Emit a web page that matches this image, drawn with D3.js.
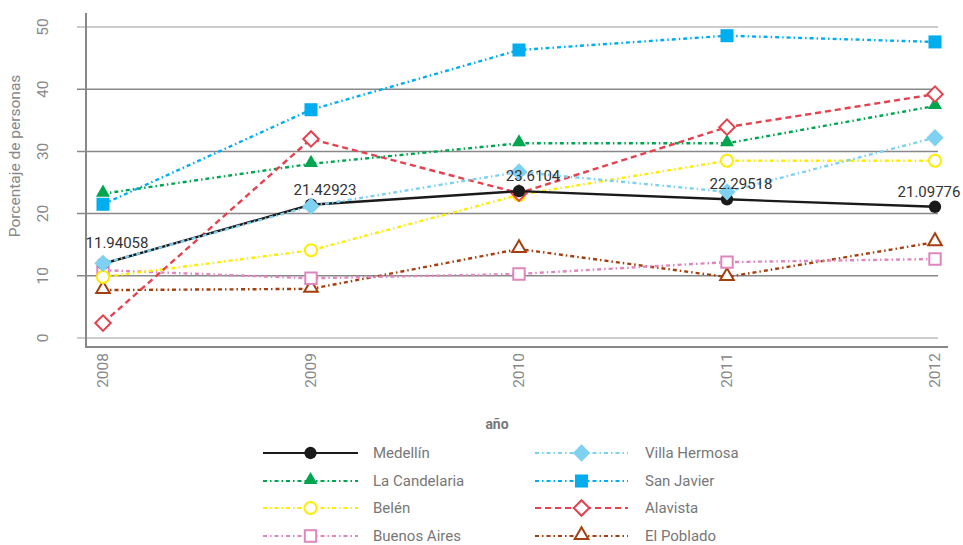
<!DOCTYPE html>
<html>
<head>
<meta charset="utf-8">
<script src="https://cdn.jsdelivr.net/npm/d3@7"></script>
<style>
  body { margin: 0; background: #fff; }
  text { font-family: Roboto, "DejaVu Sans", sans-serif; }
</style>
</head>
<body>
<div class="chart"></div>
<script>
var years = ["2008", "2009", "2010", "2011", "2012"];
var yTicks = [0, 10, 20, 30, 40, 50];

var medellin = [11.94058, 21.42923, 23.6104, 22.29518, 21.09776];
var laCandelaria = [23.2, 28.0, 31.3, 31.3, 37.3];
var belen = [9.8, 14.1, 23.0, 28.5, 28.5];
var buenosAires = [10.9, 9.6, 10.3, 12.2, 12.7];
var villaHermosa = [12.0, 21.2, 26.7, 23.5, 32.2];
var sanJavier = [21.5, 36.7, 46.3, 48.6, 47.6];
var alavista = [2.4, 32.0, 23.3, 33.9, 39.2];
var elPoblado = [7.7, 7.9, 14.3, 9.8, 15.4];

// drawing order: later ones on top
var series = [
  { name: "El Poblado", values: elPoblado, color: "#a4400f", dash: "4,3,1.5,3", shape: d3.symbolTriangle, open: true, size: 80 },
  { name: "Buenos Aires", values: buenosAires, color: "#de86bd", dash: "4,3,1.5,3", shape: d3.symbolSquare, open: true, size: 130 },
  { name: "Belén", values: belen, color: "#ffec00", dash: "4,3,1.5,3", shape: d3.symbolCircle, open: true, size: 115 },
  { name: "La Candelaria", values: laCandelaria, color: "#00a550", dash: "4,3,1.5,3", shape: d3.symbolTriangle, open: false, size: 85 },
  { name: "San Javier", values: sanJavier, color: "#00aeef", dash: "4,3,1.5,3", shape: d3.symbolSquare, open: false, size: 170 },
  { name: "Alavista", values: alavista, color: "#e5424f", dash: "6,4", shape: "diamond", open: true, size: 120 },
  { name: "Medellín", values: medellin, color: "#1a1a1a", dash: null, shape: d3.symbolCircle, open: false, size: 120 },
  { name: "Villa Hermosa", values: villaHermosa, color: "#7fd1f2", dash: "4,3,1.5,3", shape: "diamond", open: false, size: 150 }
];

var legendOrder = [
  ["Medellín", "La Candelaria", "Belén", "Buenos Aires"],
  ["Villa Hermosa", "San Javier", "Alavista", "El Poblado"]
];

var width = 963, height = 545;
var svg = d3.select(".chart").append("svg")
  .attr("width", width)
  .attr("height", height);

var x = d3.scalePoint().domain(years).range([103, 935]);
var y = d3.scaleLinear().domain([0, 50]).range([338, 27]);

// gridlines
svg.append("g").selectAll("line")
  .data(yTicks)
  .enter().append("line")
  .attr("x1", 77).attr("x2", 938)
  .attr("y1", function(d) { return y(d); })
  .attr("y2", function(d) { return y(d); })
  .attr("stroke", function(d) { return (d == 0 || d == 50) ? "#bbb" : "#888"; })
  .attr("stroke-width", 1.5);

// axis lines
svg.append("line").attr("x1", 86).attr("x2", 86).attr("y1", 13).attr("y2", 348)
  .attr("stroke", "#888").attr("stroke-width", 2);
svg.append("line").attr("x1", 85).attr("x2", 948).attr("y1", 347).attr("y2", 347)
  .attr("stroke", "#888").attr("stroke-width", 2);

// y tick labels
svg.append("g").selectAll("text")
  .data(yTicks)
  .enter().append("text")
  .attr("transform", function(d) { return "translate(48," + y(d) + ") rotate(-90)"; })
  .attr("text-anchor", "middle")
  .attr("font-size", 15.5)
  .attr("fill", "#888")
  .text(function(d) { return d; });

svg.append("text")
  .attr("transform", "translate(20,156) rotate(-90)")
  .attr("text-anchor", "middle")
  .attr("font-size", 15.5)
  .attr("fill", "#888")
  .text("Porcentaje de personas");

// x tick labels
svg.append("g").selectAll("text")
  .data(years)
  .enter().append("text")
  .attr("transform", function(d) { return "translate(" + (x(d) + 5) + ",353) rotate(-90)"; })
  .attr("text-anchor", "end")
  .attr("font-size", 15.5)
  .attr("fill", "#888")
  .text(function(d) { return d; });

svg.append("text")
  .attr("x", 497).attr("y", 429)
  .attr("text-anchor", "middle")
  .attr("font-size", 14)
  .attr("font-weight", "bold")
  .attr("fill", "#777")
  .text("año");

var line = d3.line()
  .x(function(d, i) { return x(years[i]); })
  .y(function(d) { return y(d); });

function marker(sel, s) {
  var type = s.shape == "diamond" ? d3.symbolSquare : s.shape;
  sel.attr("d", d3.symbol().type(type).size(s.size))
    .attr("fill", s.open ? "#fff" : s.color)
    .attr("stroke", s.color)
    .attr("stroke-width", s.open ? 2 : 0);
}

function place(px, py, s) {
  var rot = s.shape == "diamond" ? " rotate(45)" : "";
  var dy = s.shape == d3.symbolTriangle ? -1 : 0;
  return "translate(" + px + "," + (py + dy) + ")" + rot;
}

series.forEach(function(s) {
  svg.append("path")
    .datum(s.values)
    .attr("d", line)
    .attr("fill", "none")
    .attr("stroke", s.color)
    .attr("stroke-width", 2.4)
    .attr("stroke-dasharray", s.dash);

  svg.append("g").selectAll("path")
    .data(s.values)
    .enter().append("path")
    .attr("transform", function(d, i) { return place(x(years[i]), y(d), s); })
    .call(marker, s);
});

// value labels for Medellín
svg.append("g").selectAll("text")
  .data(medellin)
  .enter().append("text")
  .attr("x", function(d, i) { return i == medellin.length - 1 ? x(years[i]) - 6 : x(years[i]) + 14; })
  .attr("y", function(d, i) { return i == 0 ? y(d) - 16 : y(d) - 10; })
  .attr("text-anchor", "middle")
  .attr("font-size", 15)
  .attr("fill", "#333")
  .text(function(d) { return d; });

// legend
var colX = [[263, 358, 373], [535, 628, 645]];
var rowY = [453, 481, 508, 536];
legendOrder.forEach(function(col, c) {
  col.forEach(function(name, r) {
    var s = series.filter(function(d) { return d.name == name; })[0];
    var g = svg.append("g");
    g.append("line")
      .attr("x1", colX[c][0]).attr("x2", colX[c][1])
      .attr("y1", rowY[r]).attr("y2", rowY[r])
      .attr("stroke", s.color)
      .attr("stroke-width", 2.2)
      .attr("stroke-dasharray", s.dash);
    g.append("path")
      .attr("transform", place((colX[c][0] + colX[c][1]) / 2, rowY[r], s))
      .call(marker, s);
    g.append("text")
      .attr("x", colX[c][2]).attr("y", rowY[r] + 5)
      .attr("font-size", 15)
      .attr("fill", "#777")
      .text(name);
  });
});
</script>
</body>
</html>
